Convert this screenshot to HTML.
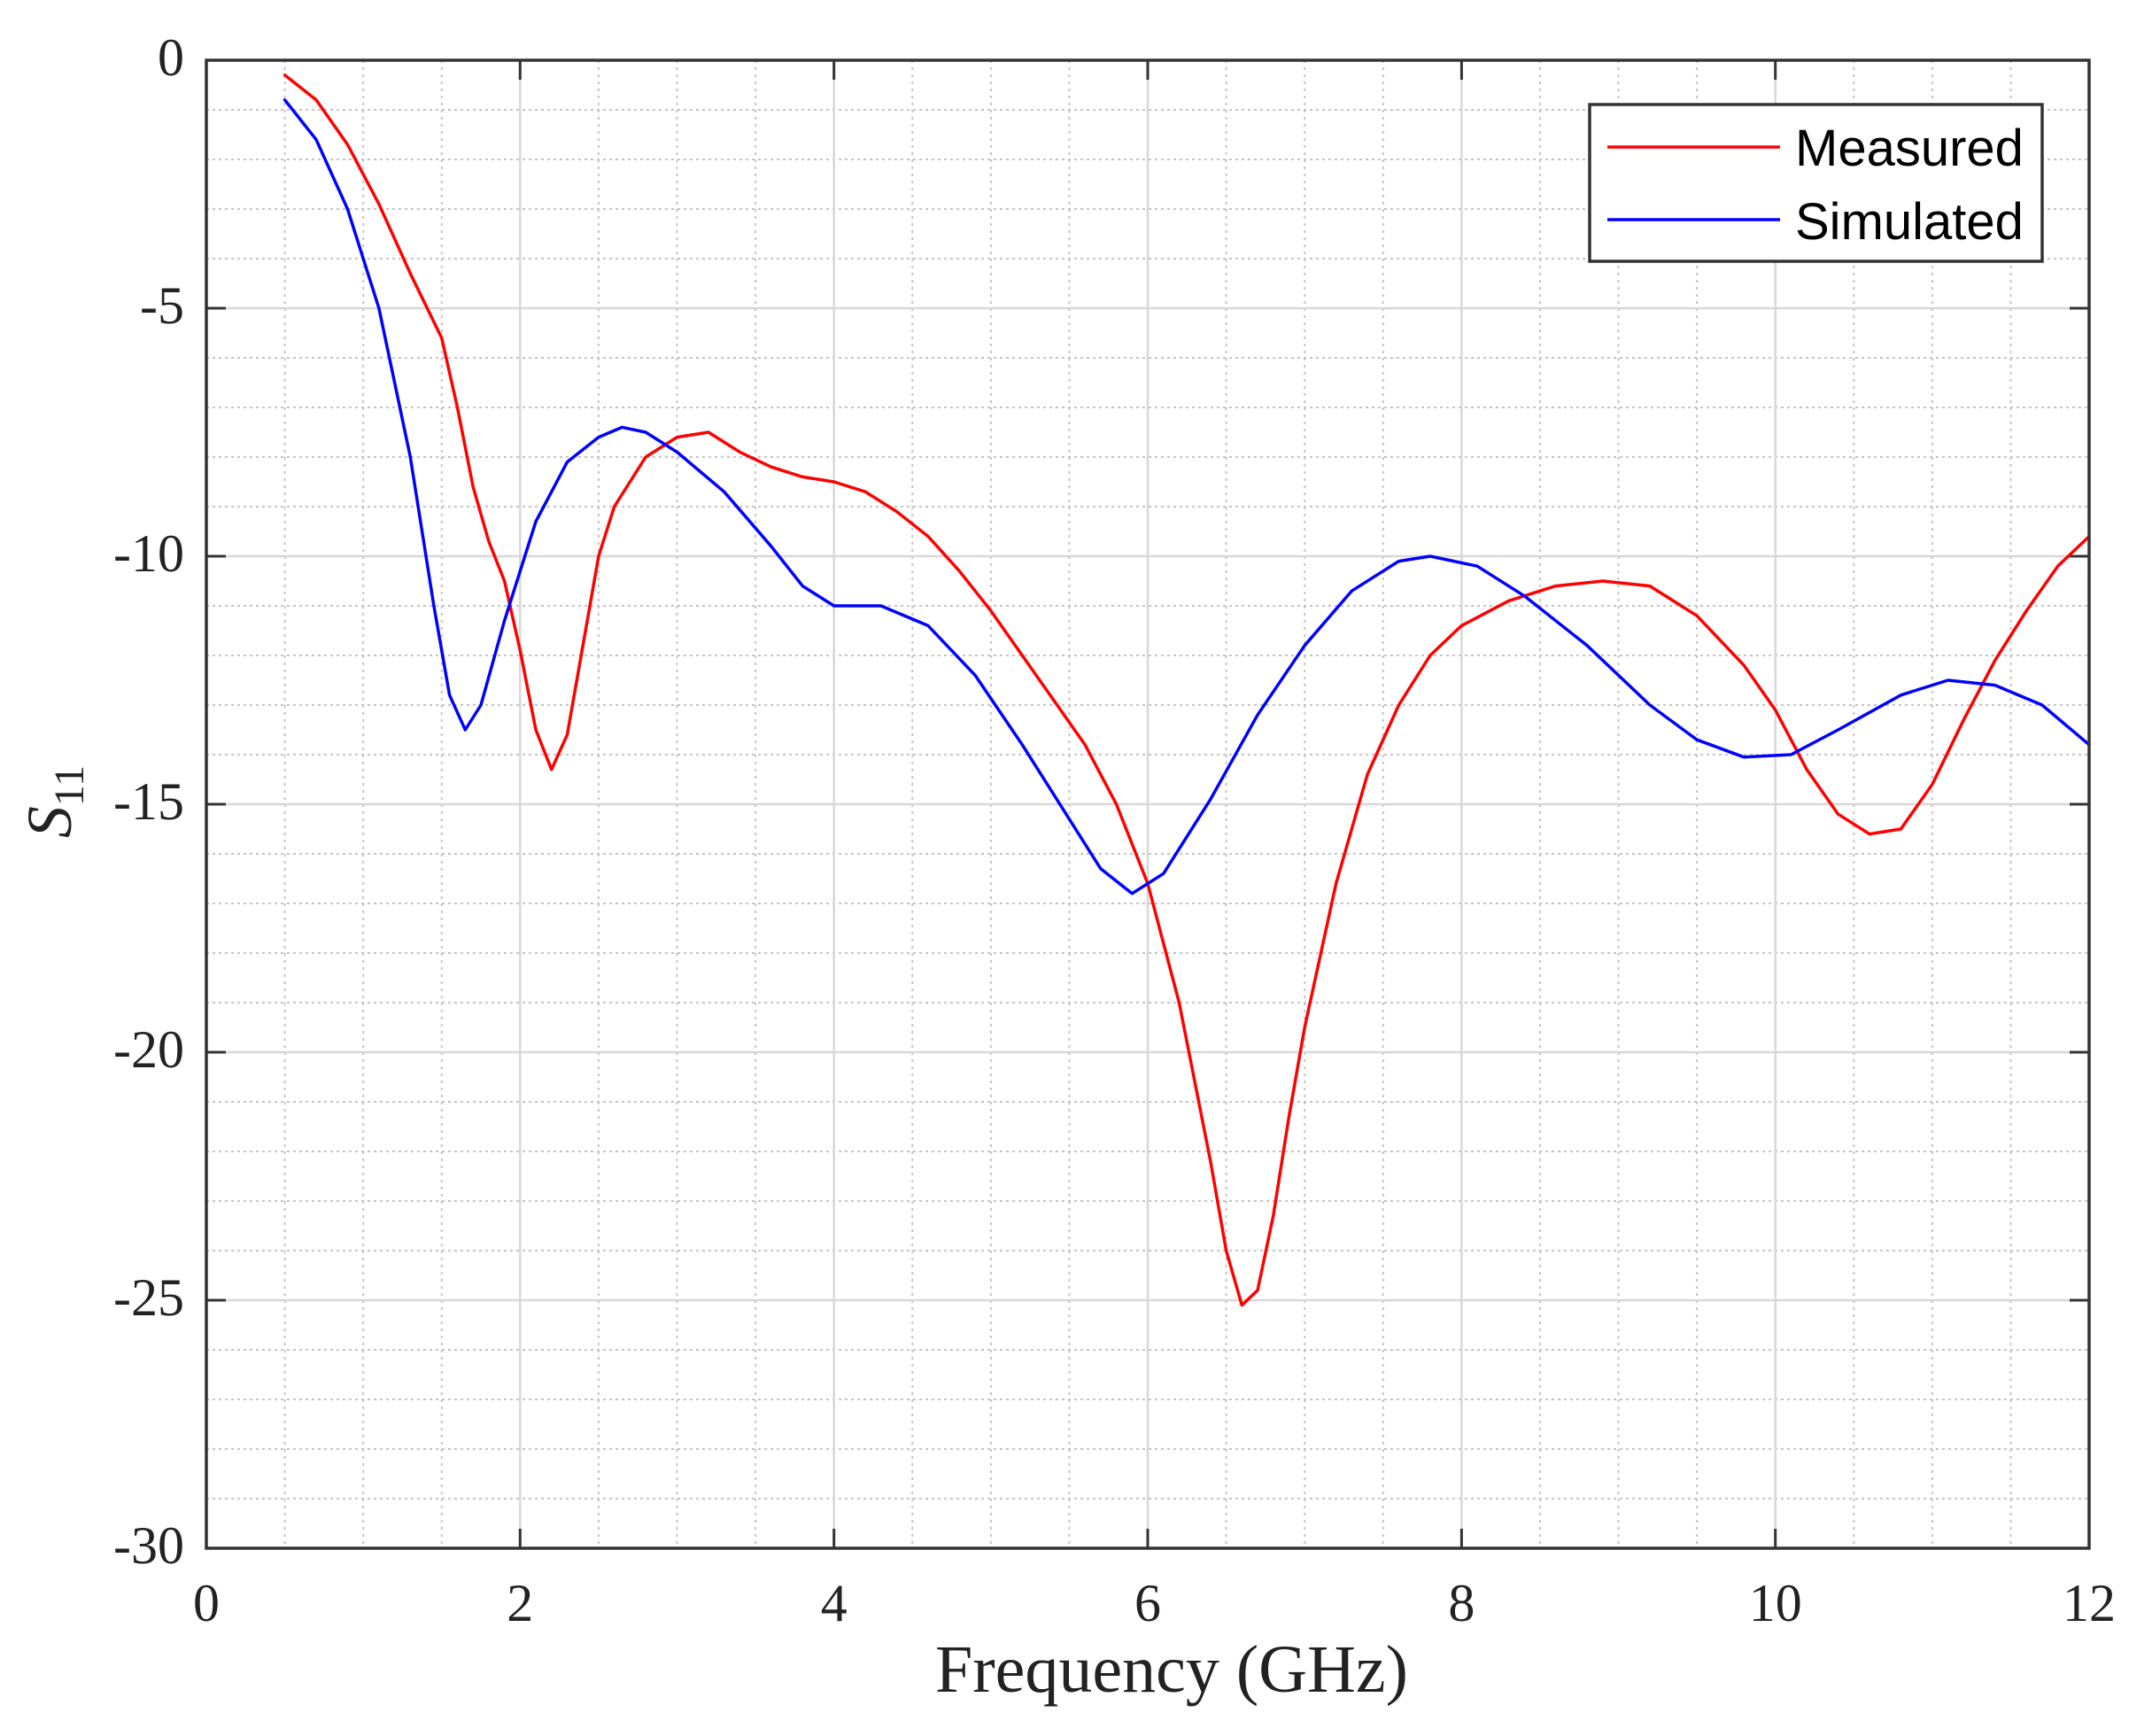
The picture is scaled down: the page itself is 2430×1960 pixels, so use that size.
<!DOCTYPE html>
<html><head><meta charset="utf-8"><style>html,body{margin:0;padding:0;background:#fff}svg{display:block}</style></head>
<body>
<svg width="2430" height="1960" viewBox="0 0 2430 1960" xmlns="http://www.w3.org/2000/svg">
<rect width="2430" height="1960" fill="#fff"/>
<g stroke="#c4c4c4" stroke-width="2" stroke-dasharray="3,5">
<line x1="321.6" y1="68" x2="321.6" y2="1748"/><line x1="410.2" y1="68" x2="410.2" y2="1748"/><line x1="498.8" y1="68" x2="498.8" y2="1748"/>
<line x1="675.9" y1="68" x2="675.9" y2="1748"/><line x1="764.5" y1="68" x2="764.5" y2="1748"/><line x1="853.1" y1="68" x2="853.1" y2="1748"/>
<line x1="1030.3" y1="68" x2="1030.3" y2="1748"/><line x1="1118.9" y1="68" x2="1118.9" y2="1748"/><line x1="1207.4" y1="68" x2="1207.4" y2="1748"/>
<line x1="1384.6" y1="68" x2="1384.6" y2="1748"/><line x1="1473.2" y1="68" x2="1473.2" y2="1748"/><line x1="1561.8" y1="68" x2="1561.8" y2="1748"/>
<line x1="1739" y1="68" x2="1739" y2="1748"/><line x1="1827.5" y1="68" x2="1827.5" y2="1748"/><line x1="1916.1" y1="68" x2="1916.1" y2="1748"/>
<line x1="2093.3" y1="68" x2="2093.3" y2="1748"/><line x1="2181.9" y1="68" x2="2181.9" y2="1748"/><line x1="2270.5" y1="68" x2="2270.5" y2="1748"/>
</g>
<g stroke="#c4c4c4" stroke-width="2" stroke-dasharray="3,4">
<line x1="233" x2="2359" y1="124" y2="124"/><line x1="233" x2="2359" y1="180" y2="180"/><line x1="233" x2="2359" y1="236" y2="236"/><line x1="233" x2="2359" y1="292" y2="292"/>
<line x1="233" x2="2359" y1="404" y2="404"/><line x1="233" x2="2359" y1="460" y2="460"/><line x1="233" x2="2359" y1="516" y2="516"/><line x1="233" x2="2359" y1="572" y2="572"/>
<line x1="233" x2="2359" y1="684" y2="684"/><line x1="233" x2="2359" y1="740" y2="740"/><line x1="233" x2="2359" y1="796" y2="796"/><line x1="233" x2="2359" y1="852" y2="852"/>
<line x1="233" x2="2359" y1="964" y2="964"/><line x1="233" x2="2359" y1="1020" y2="1020"/><line x1="233" x2="2359" y1="1076" y2="1076"/><line x1="233" x2="2359" y1="1132" y2="1132"/>
<line x1="233" x2="2359" y1="1244" y2="1244"/><line x1="233" x2="2359" y1="1300" y2="1300"/><line x1="233" x2="2359" y1="1356" y2="1356"/><line x1="233" x2="2359" y1="1412" y2="1412"/>
<line x1="233" x2="2359" y1="1524" y2="1524"/><line x1="233" x2="2359" y1="1580" y2="1580"/><line x1="233" x2="2359" y1="1636" y2="1636"/><line x1="233" x2="2359" y1="1692" y2="1692"/>
</g>
<g stroke="#d8d8d8" stroke-width="2.5">
<line x1="587.3" y1="68" x2="587.3" y2="1748"/><line x1="941.7" y1="68" x2="941.7" y2="1748"/><line x1="1296" y1="68" x2="1296" y2="1748"/><line x1="1650.4" y1="68" x2="1650.4" y2="1748"/><line x1="2004.7" y1="68" x2="2004.7" y2="1748"/>
<line x1="233" y1="348" x2="2359" y2="348"/><line x1="233" y1="628" x2="2359" y2="628"/><line x1="233" y1="908" x2="2359" y2="908"/><line x1="233" y1="1188" x2="2359" y2="1188"/><line x1="233" y1="1468" x2="2359" y2="1468"/>
</g>
<g stroke="#333" stroke-width="3">
<line x1="587.3" y1="68" x2="587.3" y2="90"/><line x1="941.7" y1="68" x2="941.7" y2="90"/><line x1="1296" y1="68" x2="1296" y2="90"/><line x1="1650.4" y1="68" x2="1650.4" y2="90"/><line x1="2004.7" y1="68" x2="2004.7" y2="90"/>
<line x1="587.3" y1="1748" x2="587.3" y2="1726"/><line x1="941.7" y1="1748" x2="941.7" y2="1726"/><line x1="1296" y1="1748" x2="1296" y2="1726"/><line x1="1650.4" y1="1748" x2="1650.4" y2="1726"/><line x1="2004.7" y1="1748" x2="2004.7" y2="1726"/>
<line x1="233" y1="348" x2="255" y2="348"/><line x1="233" y1="628" x2="255" y2="628"/><line x1="233" y1="908" x2="255" y2="908"/><line x1="233" y1="1188" x2="255" y2="1188"/><line x1="233" y1="1468" x2="255" y2="1468"/>
<line x1="2359" y1="348" x2="2337" y2="348"/><line x1="2359" y1="628" x2="2337" y2="628"/><line x1="2359" y1="908" x2="2337" y2="908"/><line x1="2359" y1="1188" x2="2337" y2="1188"/><line x1="2359" y1="1468" x2="2337" y2="1468"/>
</g>
<g fill="none" stroke-linejoin="round" stroke-linecap="round" transform="translate(233,68) scale(177.17,-56)">
<polyline vector-effect="non-scaling-stroke" stroke="#ff0000" stroke-width="3.5" points="0.5,-0.3 0.7,-0.8 0.9,-1.7 1.1,-2.9 1.3,-4.3 1.5,-5.6 1.6,-7.0 1.7,-8.6 1.8,-9.7 1.9,-10.5 2.0,-11.9 2.1,-13.5 2.2,-14.3 2.3,-13.6 2.4,-11.8 2.5,-10.0 2.6,-9.0 2.8,-8.0 3.0,-7.6 3.2,-7.5 3.4,-7.9 3.6,-8.2 3.8,-8.4 4.0,-8.5 4.2,-8.7 4.4,-9.1 4.6,-9.6 4.8,-10.3 5.0,-11.1 5.2,-12.0 5.4,-12.9 5.6,-13.8 5.8,-15.0 6.0,-16.6 6.2,-19.0 6.4,-22.2 6.5,-24.0 6.6,-25.1 6.7,-24.8 6.8,-23.3 6.9,-21.3 7.0,-19.5 7.2,-16.6 7.4,-14.4 7.6,-13.0 7.8,-12.0 8.0,-11.4 8.3,-10.9 8.6,-10.6 8.9,-10.5 9.2,-10.6 9.5,-11.2 9.8,-12.2 10.0,-13.1 10.2,-14.3 10.4,-15.2 10.6,-15.6 10.8,-15.5 11.0,-14.6 11.2,-13.3 11.4,-12.1 11.6,-11.1 11.8,-10.2 12.0,-9.6"/>
<polyline vector-effect="non-scaling-stroke" stroke="#0000ff" stroke-width="3.5" points="0.5,-0.8 0.7,-1.6 0.9,-3.0 1.1,-5.0 1.3,-8.0 1.45,-11.0 1.55,-12.8 1.65,-13.5 1.75,-13.0 1.9,-11.3 2.1,-9.3 2.3,-8.1 2.5,-7.6 2.65,-7.4 2.8,-7.5 3.0,-7.9 3.3,-8.7 3.6,-9.8 3.8,-10.6 4.0,-11.0 4.3,-11.0 4.6,-11.4 4.9,-12.4 5.2,-13.8 5.5,-15.3 5.7,-16.3 5.9,-16.8 6.1,-16.4 6.4,-14.9 6.7,-13.2 7.0,-11.8 7.3,-10.7 7.6,-10.1 7.8,-10.0 8.1,-10.2 8.4,-10.8 8.8,-11.8 9.2,-13.0 9.5,-13.7 9.8,-14.05 10.1,-14.0 10.4,-13.5 10.8,-12.8 11.1,-12.5 11.4,-12.6 11.7,-13.0 12.0,-13.8"/>
</g>
<rect x="233" y="68" width="2126" height="1680" fill="none" stroke="#333" stroke-width="3.5"/>
<rect x="1795" y="118" width="511" height="177" fill="#fff" stroke="#333" stroke-width="3.5"/>
<line x1="1815" y1="166" x2="2010" y2="166" stroke="#ff0000" stroke-width="3.5"/>
<line x1="1815" y1="248" x2="2010" y2="248" stroke="#0000ff" stroke-width="3.5"/>
<g font-family="Liberation Sans, sans-serif" font-size="58" fill="#000">
<text x="2027" y="187">Measured</text><text x="2027" y="270">Simulated</text>
</g>
<g font-family="Liberation Serif, serif" font-size="60" fill="#222" text-anchor="end">
<text x="208" y="85">0</text><text x="208" y="365">-5</text><text x="208" y="645">-10</text><text x="208" y="925">-15</text><text x="208" y="1205">-20</text><text x="208" y="1485">-25</text><text x="208" y="1765">-30</text>
</g>
<g font-family="Liberation Serif, serif" font-size="60" fill="#222" text-anchor="middle">
<text x="233" y="1830">0</text><text x="587.3" y="1830">2</text><text x="941.7" y="1830">4</text><text x="1296" y="1830">6</text><text x="1650.4" y="1830">8</text><text x="2004.7" y="1830">10</text><text x="2359" y="1830">12</text>
<text x="1323" y="1910" font-size="76">Frequency (GHz)</text>
</g>
<text transform="translate(80,905) rotate(-90)" font-family="Liberation Serif, serif" font-size="72" fill="#222" text-anchor="middle"><tspan font-style="italic">S</tspan><tspan font-size="48" dy="14">11</tspan></text>
</svg>
</body></html>
